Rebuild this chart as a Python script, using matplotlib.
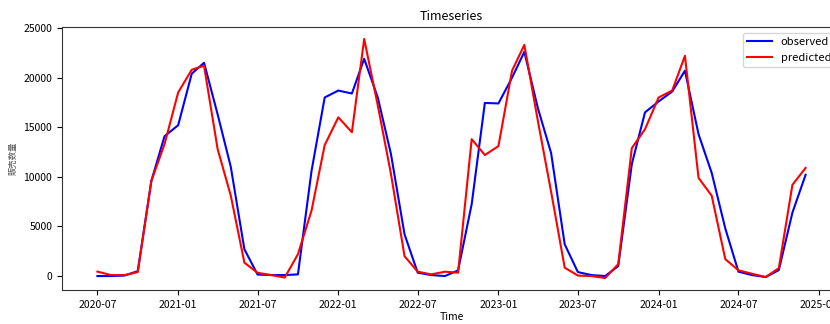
import matplotlib
matplotlib.use("Agg")
import matplotlib.pyplot as plt
import matplotlib.dates as mdates
import numpy as np
import pandas as pd

plt.rcParams['font.family'] = ['Noto Sans CJK JP', 'DejaVu Sans']

# monthly data, 2020-07 .. 2024-12
months = pd.date_range('2020-07-01', periods=54, freq='MS')

observed = [0, 0, 50, 500, 9600, 14100, 15200, 20400, 21500, 16300,
            11000, 2700, 150, 100, 100, 170, 10600, 18000, 18700, 18400,
            21900, 18000, 12300, 4200, 340, 100, 0, 570, 7250, 17450,
            17400, 20000, 22600, 16900, 12400, 3200, 400, 100, 0, 1000,
            11300, 16500, 17600, 18600, 20700, 14300, 10400, 4800, 440, 100,
            -100, 600, 6400, 10200]

predicted = [450, 100, 100, 400, 9600, 13300, 18500, 20800, 21200, 12800,
             8100, 1350, 330, 100, -150, 2200, 6600, 13200, 16000, 14500,
             23900, 17200, 10300, 2000, 440, 170, 440, 340, 13800, 12200,
             13100, 20700, 23300, 15600, 8500, 850, 50, 0, -200, 1200,
             12900, 14800, 18000, 18700, 22200, 9900, 8100, 1700, 580, 230,
             -100, 800, 9200, 10900]

fig = plt.figure(figsize=(8.3, 3.24), dpi=100)
# the right part of the axes runs past the figure edge, as in the reference
ax = fig.add_axes([62/830, 34/324, 779/830, 263/324])

ax.plot(months, observed, color='blue', lw=1.5, label='observed')
ax.plot(months, predicted, color='red', lw=1.5, label='predicted')

ax.xaxis.set_major_locator(mdates.MonthLocator(bymonth=[1, 7]))
ax.xaxis.set_major_formatter(mdates.DateFormatter('%Y-%m'))
ax.set_yticks([0, 5000, 10000, 15000, 20000, 25000])
ax.tick_params(labelsize=7.5)

ax.set_title('Timeseries', fontsize=9, pad=5)
ax.set_xlabel('Time', fontsize=7.5, labelpad=2)
ax.set_ylabel('販売数量', fontsize=6, color='#555555')
ax.legend(loc='upper right', fontsize=8, handlelength=2.2)

for s in ax.spines.values():
    s.set_color('#333333')

fig.savefig('out.png', dpi=100)
